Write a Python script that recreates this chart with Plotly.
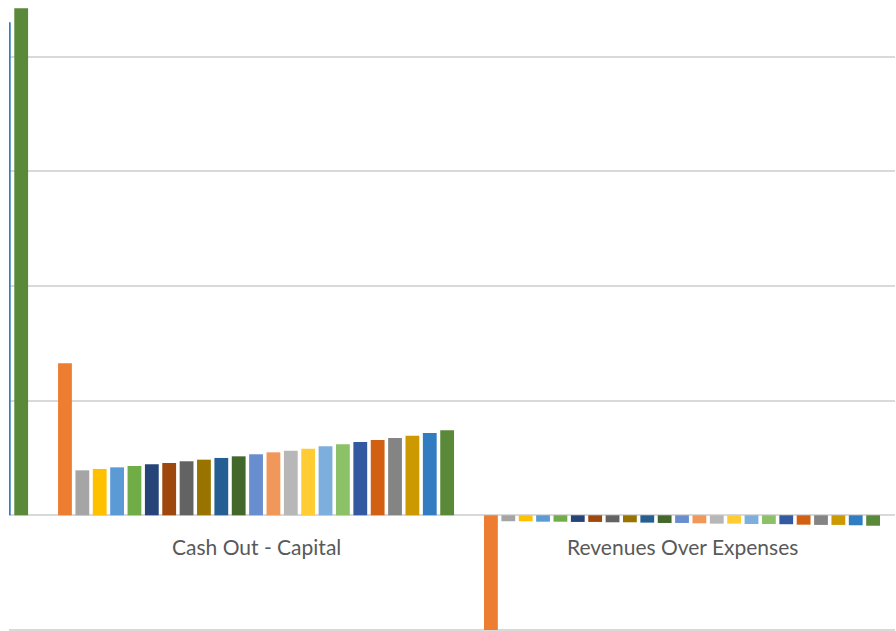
import plotly.graph_objects as go

# Categories along the x axis (the first one sits mostly left of the visible window)
categories = ["Cash In", "Cash Out - Capital", "Revenues Over Expenses"]

series_names = [f"Year {i}" for i in range(1, 24)]

series_colors = [
    "#ED7D31", "#A5A5A5", "#FFC000", "#5B9BD5", "#70AD47", "#264478",
    "#9E480E", "#636363", "#997300", "#255E91", "#43682B", "#698ED0",
    "#F1975A", "#B7B7B7", "#FFCD33", "#7CAFDD", "#8CC168", "#335AA1",
    "#D26012", "#848484", "#CC9A00", "#327DC2", "#5A8A39",
]

cash_in = [None] * 21 + [4.30, 4.42]

cash_out_capital = [
    1.325, 0.392, 0.404, 0.418, 0.430, 0.445, 0.456, 0.471, 0.485, 0.500,
    0.514, 0.532, 0.549, 0.563, 0.581, 0.602, 0.619, 0.639, 0.657, 0.674,
    0.694, 0.718, 0.741,
]

revenues_over_expenses = [
    -1.0, -0.052, -0.052, -0.056, -0.056, -0.058, -0.058, -0.061, -0.061,
    -0.064, -0.067, -0.067, -0.070, -0.073, -0.073, -0.076, -0.076, -0.078,
    -0.082, -0.084, -0.084, -0.087, -0.091,
]

fig = go.Figure()
for i, name in enumerate(series_names):
    fig.add_trace(go.Bar(
        name=name,
        x=categories,
        y=[cash_in[i], cash_out_capital[i], revenues_over_expenses[i]],
        marker=dict(color=series_colors[i], line=dict(width=0)),
        showlegend=False,
    ))

label_font = dict(family="Lato, 'Open Sans', sans-serif", size=21, color="#595959")
for cat in categories[1:]:
    fig.add_annotation(
        x=cat, y=-0.276, xref="x", yref="y", text=cat, showarrow=False,
        font=label_font, xanchor="center", yanchor="middle",
    )

fig.update_layout(
    width=896, height=631,
    margin=dict(l=9, r=1, t=0, b=0),
    paper_bgcolor="white", plot_bgcolor="white",
    barmode="group", bargap=0.062, bargroupgap=0.205,
    xaxis=dict(
        type="category", range=[0.42, 2.5], showticklabels=False,
        showgrid=False, zeroline=False, showline=False, ticks="",
    ),
    yaxis=dict(
        range=[-1.009, 4.493], dtick=1, tick0=0, showticklabels=False,
        showgrid=True, gridcolor="#D9D9D9", gridwidth=1.5,
        zeroline=True, zerolinecolor="#D9D9D9", zerolinewidth=1.5,
        showline=False, ticks="",
    ),
)

fig.write_html("out.html")
